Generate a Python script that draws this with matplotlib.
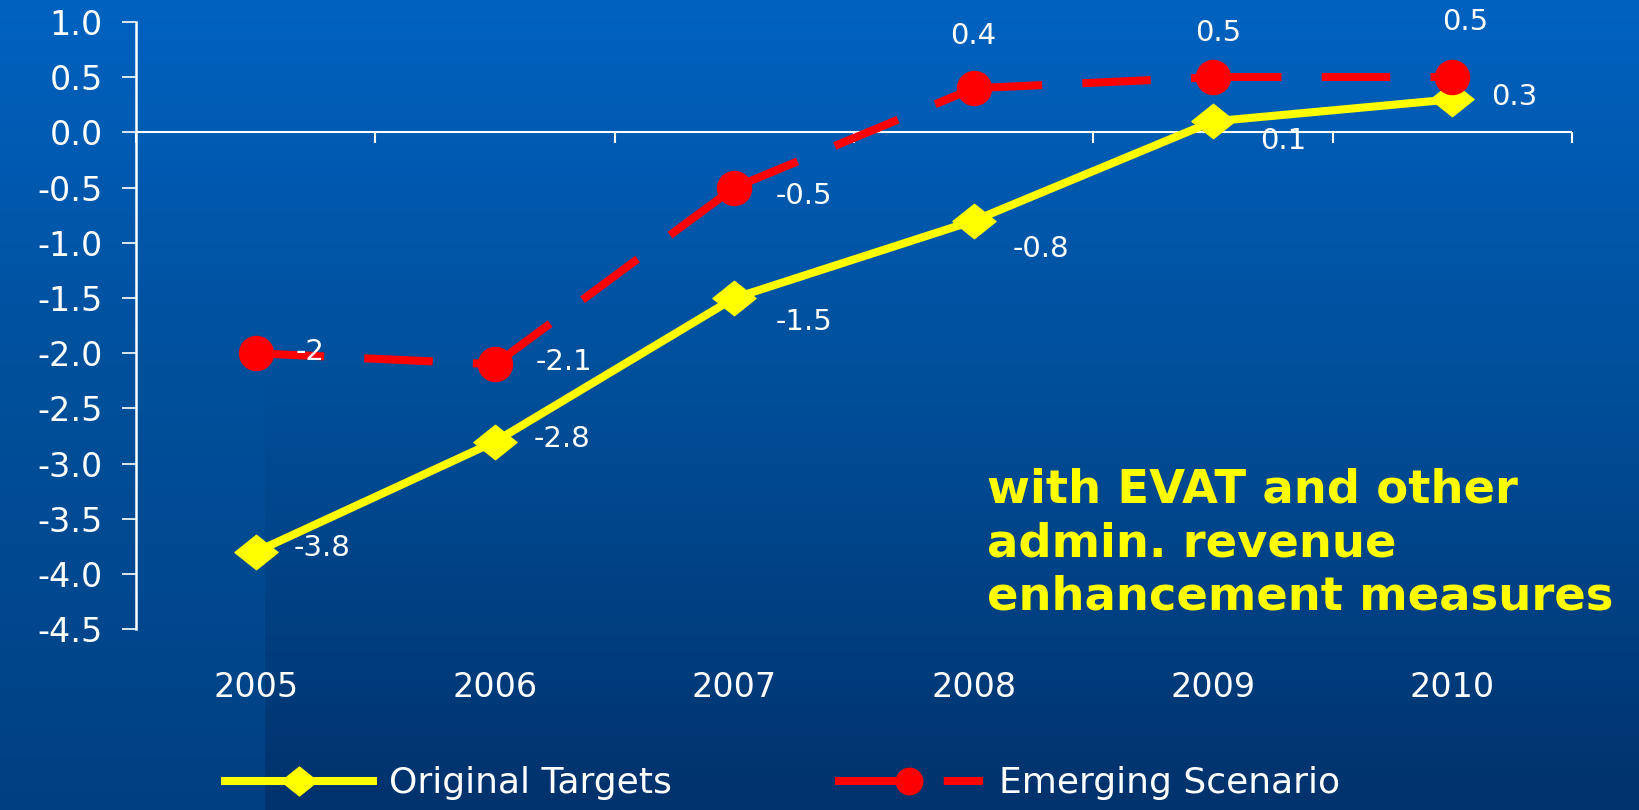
import numpy as np
import matplotlib
matplotlib.use('Agg')
import matplotlib.pyplot as plt
from matplotlib.path import Path
from matplotlib.lines import Line2D
from matplotlib.markers import TICKDOWN

# --- DATA ---
YEARS = ['2005', '2006', '2007', '2008', '2009', '2010']
ORIGINAL_TARGETS = [-3.8, -2.8, -1.5, -0.8, 0.1, 0.3]
EMERGING_SCENARIO = [-2.0, -2.1, -0.5, 0.4, 0.5, 0.5]
Y_TICKS = [1.0, 0.5, 0.0, -0.5, -1.0, -1.5, -2.0, -2.5, -3.0, -3.5, -4.0, -4.5]
SERIES_NAMES = ['Original Targets', 'Emerging Scenario']
NOTE = "with EVAT and other\nadmin. revenue\nenhancement measures"

# --- STYLE ---
YELLOW = '#FFFF00'
RED = '#FF0000'
LW = 5.8
DASH = (0, (8.5, 5.0))
# value label offsets in points (dx, dy from marker to text baseline) and alignment
ORIG_LABEL_POS = [(27, -3), (28, -4), (30, -23), (28, -26), (34, -20), (28, -4)]
EMER_LABEL_POS = [(29, -5), (29, -4), (30, -12), (0, 32), (4, 26), (9, 34)]
EMER_LABEL_HA = ['left', 'left', 'left', 'center', 'center', 'center']

# wide diamond like the PowerPoint marker
DIAMOND = Path([(-1, 0), (0, 0.8), (1, 0), (0, -0.8), (-1, 0)], closed=True)

fig = plt.figure(figsize=(16.4, 8.1), dpi=100)

# background gradient (dark blue slide)
h, w = 810, 1640
t = np.linspace(0, 1, h)[:, None, None]
top = np.array([0, 98, 192]) / 255
mid = np.array([0, 78, 152]) / 255
bot = np.array([0, 50, 108]) / 255
grad = np.where(t < 0.5, top + (mid - top) * (t / 0.5), mid + (bot - mid) * ((t - 0.5) / 0.5))
img = np.repeat(grad, w, axis=1)
# slightly lighter strip at the left of the slide
strip = np.clip((t[:, :, 0] - 0.45) / 0.55, 0, 1)[:, :, None] * (np.array([0, 14, 22]) / 255)
img[:, :265, :] = np.clip(img[:, :265, :] + strip, 0, 1)
fig.figimage(img, xo=0, yo=0, origin='upper', zorder=-10)

ax = fig.add_axes([136 / 1640, 1 - 629.3 / 810, 1436 / 1640, 607.3 / 810])
ax.set_facecolor('none')

x = np.arange(len(YEARS))

# category axis crossing at zero, with ticks between categories
ax.axhline(0, color='white', lw=1.5, zorder=2)
bounds = np.arange(-0.5, len(YEARS), 1.0)
ax.plot(bounds, np.zeros_like(bounds), linestyle='none', marker=TICKDOWN, ms=8,
        mew=1.5, color='white', clip_on=False, zorder=2)

# original targets: solid yellow with diamonds
ax.plot(x, ORIGINAL_TARGETS, color=YELLOW, lw=LW, marker=DIAMOND, ms=31,
        mec=YELLOW, mfc=YELLOW, zorder=3, solid_joinstyle='miter')

# emerging scenario: dash pattern restarts at every point
for i in range(len(x) - 1):
    ax.plot(x[i:i + 2], EMERGING_SCENARIO[i:i + 2], color=RED, lw=LW,
            linestyle=DASH, dash_capstyle='butt', zorder=4)
ax.plot(x, EMERGING_SCENARIO, linestyle='none', marker='o', ms=24.5,
        color=RED, mec=RED, zorder=5)

# value labels
for xi, v, (dx, dy) in zip(x, ORIGINAL_TARGETS, ORIG_LABEL_POS):
    ax.annotate(f"{v:g}", (xi, v), xytext=(dx, dy), textcoords='offset points',
                ha='left', va='baseline', color='white', fontsize=21, zorder=6)
for xi, v, (dx, dy), ha in zip(x, EMERGING_SCENARIO, EMER_LABEL_POS, EMER_LABEL_HA):
    ax.annotate(f"{v:g}", (xi, v), xytext=(dx, dy), textcoords='offset points',
                ha=ha, va='baseline', color='white', fontsize=21, zorder=6)

ax.set_xlim(-0.5, len(YEARS) - 0.5)
ax.set_ylim(min(Y_TICKS), max(Y_TICKS))

# y axis
ax.set_yticks(Y_TICKS)
ax.set_yticklabels([f"{v:.1f}" for v in Y_TICKS])
ax.tick_params(axis='y', colors='white', direction='out', length=10, width=1.2,
               pad=14, labelsize=24)
for side in ['top', 'right', 'bottom']:
    ax.spines[side].set_visible(False)
ax.spines['left'].set_color('white')
ax.spines['left'].set_linewidth(1.8)

# year labels below the plot
ax.set_xticks(x)
ax.set_xticklabels(YEARS)
ax.tick_params(axis='x', length=0, pad=30, labelsize=24, labelcolor='white')

# note text
fig.text(987 / 1640, 1 - 468 / 810, NOTE, color=YELLOW, fontsize=33.5,
         fontweight='bold', ha='left', va='top', linespacing=1.23)

# legend
handles = [
    Line2D([], [], color=YELLOW, lw=LW, marker=DIAMOND, ms=26, mec=YELLOW),
    Line2D([], [], color=RED, lw=LW, linestyle=DASH, dash_capstyle='butt',
           marker='o', ms=19, mec=RED),
]
fig.legend(handles, SERIES_NAMES, loc='center left', bbox_to_anchor=(225 / 1640, 0.033),
           ncol=2, frameon=False, fontsize=26, labelcolor='white',
           borderaxespad=0, borderpad=0,
           handlelength=4.1, handletextpad=0.45, columnspacing=4.5)

fig.savefig('out.png', dpi=100)
